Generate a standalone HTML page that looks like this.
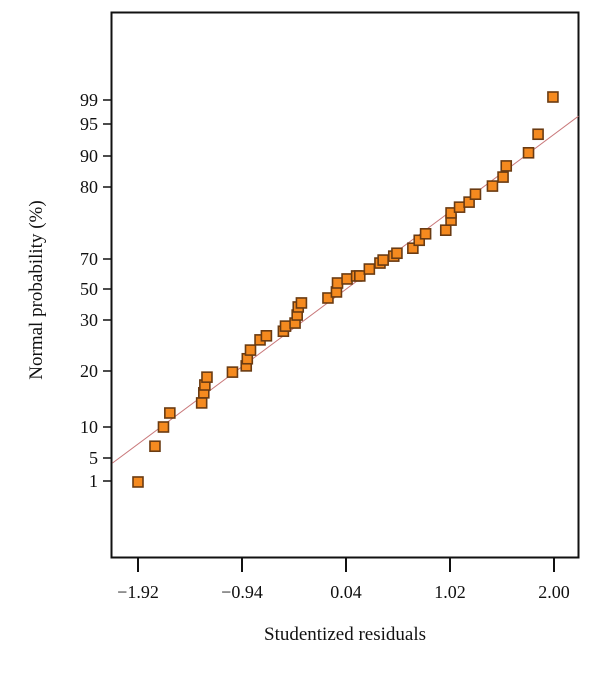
<!DOCTYPE html>
<html><head><meta charset="utf-8"><style>
body{margin:0;background:#fff;}
svg text{font-family:"Liberation Serif",serif;fill:#111;}
</style></head><body>
<svg id="chart" width="600" height="668" viewBox="0 0 600 668" xmlns="http://www.w3.org/2000/svg">
<rect x="111.5" y="12.5" width="467" height="545" fill="#fff" stroke="#111" stroke-width="2"/>
<g id="xaxis"></g>
<g id="yaxis"></g>
<g id="fit"></g>
<g id="pts"></g>
<text x="345" y="640" font-size="19" text-anchor="middle">Studentized residuals</text>
<text x="0" y="0" font-size="19" text-anchor="middle" transform="translate(42,290) rotate(-90)">Normal probability (%)</text>
</svg>
<script>
const xTicks=[-1.92,-0.94,0.04,1.02,2.00];
const xTickLabels=["\u22121.92","\u22120.94","0.04","1.02","2.00"];
const yTicks=[1,5,10,20,30,50,70,80,90,95,99];
const yTickLabels=["1","5","10","20","30","50","70","80","90","95","99"];
const resid=[-1.92,-1.76,-1.68,-1.62,-1.32,-1.30,-1.29,-1.27,-1.03,-0.90,-0.89,-0.86,-0.77,-0.71,-0.55,-0.53,-0.44,-0.42,-0.41,-0.38,-0.13,-0.05,-0.04,0.05,0.14,0.17,0.26,0.36,0.39,0.49,0.52,0.67,0.73,0.79,0.98,1.03,1.03,1.11,1.20,1.26,1.42,1.52,1.55,1.76,1.85,1.99];
const prob=[0.83,6.9,10,12.5,14.3,16.1,17.5,18.9,19.8,21.0,22.4,24.1,26.1,26.9,27.8,28.8,29.4,33.2,38.4,41.0,44.2,48.1,54,56.7,58.7,58.7,63.3,67.3,69.3,70.4,70.8,71.5,72.6,73.5,74.0,75.4,76.4,77.2,77.9,79.0,80.3,83.2,86.8,90.5,93.4,99.5];
const fitX=[-2.16,2.23];
const fitP=[4.13,96.3];
// axis scales
const yTickPix=[481,458,427,371,320,289,259,187,156,124,100];
function sx(v){return 138+(v+1.92)/0.98*104;}
function sy(p){
  const n=yTicks.length;
  let i=0;
  if(p<=yTicks[0]) i=0; else if(p>=yTicks[n-1]) i=n-2;
  else {while(p>yTicks[i+1]) i++;}
  const t=(p-yTicks[i])/(yTicks[i+1]-yTicks[i]);
  return yTickPix[i]+t*(yTickPix[i+1]-yTickPix[i]);
}
const NS="http://www.w3.org/2000/svg";
function mk(tag,attrs,parent){const e=document.createElementNS(NS,tag);for(const k in attrs)e.setAttribute(k,attrs[k]);parent.appendChild(e);return e;}
const xa=document.getElementById('xaxis');
xTicks.forEach((v,i)=>{
  const l=mk('line',{x1:sx(v),x2:sx(v),y1:558,y2:572,stroke:'#111','stroke-width':2},xa);
  
  
  const t=mk('text',{x:sx(v),y:598,'font-size':18,'text-anchor':'middle'},xa);
  
  
  t.textContent=xTickLabels[i];
});
const ya=document.getElementById('yaxis');
yTicks.forEach((p,i)=>{
  const l=mk('line',{x1:103,x2:111,y1:sy(p),y2:sy(p),stroke:'#111','stroke-width':1.5},ya);
  
  
  const t=mk('text',{x:98,y:sy(p)+6,'font-size':18,'text-anchor':'end'},ya);
  
  
  t.textContent=yTickLabels[i];
});
const fg=document.getElementById('fit');
const fl=mk('line',{x1:sx(fitX[0]),y1:sy(fitP[0]),x2:sx(fitX[1]),y2:sy(fitP[1]),stroke:'#c9787a','stroke-width':1},fg);


const pg=document.getElementById('pts');
resid.forEach((v,i)=>{
  const r=mk('rect',{x:sx(v)-5,y:sy(prob[i])-5,width:10,height:10,fill:'#f58a1f',stroke:'#6a3b12','stroke-width':1.6},pg);
  
  
});
</script>
</body></html>
